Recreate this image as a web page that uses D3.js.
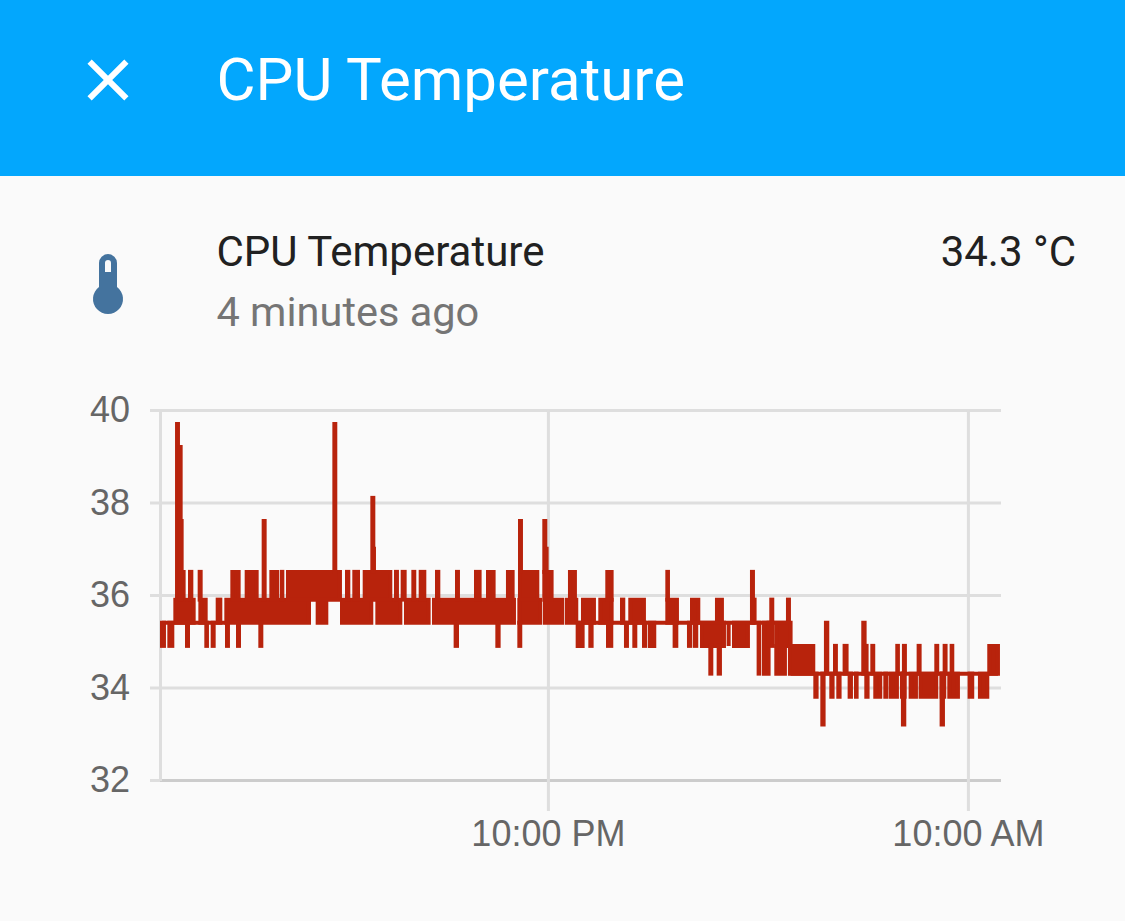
<!DOCTYPE html>
<html><head><meta charset="utf-8">
<script src="https://cdnjs.cloudflare.com/ajax/libs/d3/7.8.5/d3.min.js"></script>
<style>
html,body{margin:0;padding:0;background:#fafafa;}
svg{display:block;font-family:Roboto,sans-serif;}
.axis path{display:none;}
.axis line{stroke:#dedede;stroke-width:3;}
.axis text{fill:#666666;font-size:36px;font-family:"Liberation Sans",Arial,sans-serif;}
</style></head><body>
<svg id="c" width="1125" height="921"></svg>
<script>
// Minutes since the start of the 24 h window (10:55 AM).
const domainMinutes = [0, 1440];
const tempTicks = [32, 34, 36, 38, 40];
const timeTickMinutes = [0, 665, 1385];
const timeTickLabels = ["", "10:00 PM", "10:00 AM"];

// Each run: [startMinute, endMinute, lowTemp, highTemp]
const baseRuns = [
 [3.4,113.7,35.4,35.4],[713.6,1081,35.4,35.4],[1081,1436.5,34.3,34.3]
];
const bandRuns = [
 [26.3,57.7,35.4,35.9],[69.2,78.3,35.4,35.9],[98.9,103.4,35.4,35.9],[113.7,255.4,35.4,35.9],
 [270.3,285.1,35.4,35.9],[312,362.2,35.4,35.9],[372.6,412,35.4,35.9],[421.7,460.5,35.4,35.9],
 [469.7,606.8,35.4,35.9],[616,651.9,35.4,35.9],[660,689.6,35.4,35.9],[697.7,713.6,35.4,35.9],
 [725.1,743.9,35.4,35.9],[754.8,774.2,35.4,35.9],[792,794.2,35.4,35.9],[806.2,829.6,35.4,35.9],
 [869.7,886.2,35.4,35.9],[912,922.8,35.4,35.9],[954.8,963.3,35.4,35.9],
 [1017.6,1019.3,35.4,35.9],[1047.9,1049.6,35.4,35.9],[1076.5,1078.2,35.4,35.9]
];
const peakRuns = [
 [30.3,40.5,35.9,36.5],[51.4,53.7,35.9,36.5],[68,69.7,35.9,36.5],[124,134.8,35.9,36.5],
 [148.6,165.7,35.9,36.5],[190.9,201.1,35.9,36.5],[209.1,209.7,35.9,36.5],[219.4,308.5,35.9,36.5],
 [320.6,322.8,35.9,36.5],[333.1,339.4,35.9,36.5],[350.9,394.8,35.9,36.5],[404.6,406.2,35.9,36.5],
 [416,419.4,35.9,36.5],[434.3,435.9,35.9,36.5],[446.9,453.1,35.9,36.5],[474.9,477.1,35.9,36.5],
 [509.1,510.8,35.9,36.5],[541.7,547.9,35.9,36.5],[562.3,571.9,35.9,36.5],[596.5,604.5,35.9,36.5],
 [617.1,646.8,35.9,36.5],[658.8,671.3,35.9,36.5],[702.8,711.3,35.9,36.5],[766.8,774.2,35.9,36.5],
 [869.7,870.8,35.9,36.5],[1014.8,1016.5,35.4,36.5]
];
const spikeRuns = [
 [29.2,30.8,35.9,39.7],[33.7,35.4,35.9,39.2],[35.4,37.1,35.9,37.6],[177.7,179.4,35.9,37.6],
 [298.9,300.5,36.5,39.7],[364,365.7,36.5,38.1],[365.1,366.8,36.5,37.0],[617.1,618.8,36.5,37.6],
 [658.8,660.5,36.5,37.6],[661.1,662.8,36.5,37.0]
];
const dipRuns = [
 [3.4,6.8,34.9,35.4],[16,21.1,34.9,35.4],[46.3,48,34.9,35.4],[79.4,80.5,34.9,35.4],
 [90.3,92,34.9,35.4],[114.9,116.5,34.9,35.4],[133.7,135.4,34.9,35.4],[172,173.7,34.9,35.4],
 [506.8,509.1,34.9,35.4],[578.3,580.5,34.9,35.4],[616,617.6,34.9,35.4],[716,724.5,34.9,35.4],
 [737.7,739.9,34.9,35.4],[768,773.6,34.9,35.4],[798.8,800.5,34.9,35.4],[813.1,814.8,34.9,35.4],
 [829.7,831.9,34.9,35.4],[840,847.3,34.9,35.4],[882.2,885.1,34.9,35.4],[906.8,909.1,34.9,35.4],
 [917.1,919.3,34.9,35.4],[929.1,966.8,34.9,35.4],[974.8,974.8,34.9,35.4],[984,1007.9,34.9,35.4],
 [943.4,945.1,34.3,34.9],[957.7,959.9,34.3,34.9]
];
const lateRuns = [
 [1026.2,1027.3,34.3,35.4],[1035.4,1043.3,34.3,35.4],[1043.3,1050,34.9,35.4],[1056.5,1081,34.9,35.4],
 [1056.5,1071.3,34.3,34.9],[1079.9,1119.9,34.3,34.9],
 [1141.6,1143.9,34.3,35.4],[1157.1,1158.7,34.3,34.9],[1173.6,1177,34.3,34.9],[1205.6,1207.9,34.3,35.4],
 [1209.6,1211.3,34.3,34.9],[1221.1,1222.7,34.3,34.9],[1263.9,1265,34.3,34.9],[1275.3,1277,34.3,34.9],
 [1300.5,1302.2,34.3,34.9],[1330.8,1332.4,34.3,34.9],[1345.1,1346.7,34.3,34.9],[1357.1,1358.2,34.3,34.9],
 [1421.6,1436.5,34.3,34.9]
];
const lowRuns = [
 [1123.4,1125.6,33.8,34.3],[1135.4,1137.6,33.2,34.3],[1150.8,1153,33.8,34.3],[1162.8,1165,33.8,34.3],
 [1182.2,1184.5,33.8,34.3],[1193.1,1194.2,33.8,34.3],[1210.8,1213,33.8,34.3],[1226.2,1234.7,33.8,34.3],
 [1243.4,1245,33.8,34.3],[1252.5,1263.3,33.8,34.3],[1271.9,1276.5,33.8,34.3],[1273.6,1275.9,33.2,34.3],
 [1286.8,1295.9,33.8,34.3],[1303.9,1330.7,33.8,34.3],[1339.9,1344.4,33.8,34.3],[1339.9,1342.2,33.2,34.3],
 [1353.1,1367.9,33.8,34.3],[1387.9,1392.4,33.8,34.3],[1405.6,1418.2,33.8,34.3]
];

const svg = d3.select("#c");
svg.append("rect").attr("width",1125).attr("height",921).attr("fill","#fafafa");
svg.append("rect").attr("width",1125).attr("height",176).attr("fill","#03a7fd");
svg.append("path").attr("d","M89.6,61.6 L126.4,98.4 M126.4,61.6 L89.6,98.4").attr("stroke","#fff").attr("stroke-width",6).attr("fill","none");
svg.append("text").attr("x",216.5).attr("y",100).attr("fill","#fff").attr("font-size",60).text("CPU Temperature");

// thermometer icon
svg.append("path").attr("fill","#44739e").attr("fill-rule","evenodd")
 .attr("d","M99,263 a9,9 0 0 1 18,0 V287 a15,15 0 1 1 -18,0 Z M105,272 V263 a3,3 0 0 1 6,0 V272 Z");
svg.append("text").attr("x",216.5).attr("y",266).attr("fill","#212121").attr("font-size",42).text("CPU Temperature");
svg.append("text").attr("x",216.5).attr("y",326).attr("fill","#757575").attr("font-size",41.5).text("4 minutes ago");
svg.append("text").attr("x",1076).attr("y",266).attr("text-anchor","end").attr("fill","#212121").attr("font-size",42).text("34.3 °C");

const x = d3.scaleLinear().domain(domainMinutes).range([160,1000]);
const y = d3.scaleLinear().domain([32,40]).range([780,410]);

const gy = svg.append("g").attr("class","axis").attr("transform","translate(160,0)")
 .call(d3.axisLeft(y).tickValues(tempTicks).tickSize(10).tickPadding(20).tickFormat(d3.format("d")));
gy.selectAll("line").attr("x1",-10).attr("x2",841);
gy.selectAll("text").attr("dy","0.33em");

const gx = svg.append("g").attr("class","axis").attr("transform","translate(0,780)")
 .call(d3.axisBottom(x).tickValues(timeTickMinutes).tickSize(31).tickPadding(9)
   .tickFormat((d,i)=>timeTickLabels[i]));
gx.selectAll("line").attr("y1",-370).attr("y2",(d,i)=>timeTickLabels[i] ? 31 : 1);

// darker baseline on top of the grid
gy.selectAll("line").filter(d=>d===32).each(function(){
  d3.select(this.parentNode).append("line").attr("x1",0).attr("x2",841).style("stroke","#cccccc");
});

const allRuns = [...baseRuns,...bandRuns,...peakRuns,...spikeRuns,...dipRuns,...lateRuns,...lowRuns];
const runOutline = d3.line().curve(d3.curveLinearClosed).x(p=>x(p[0])).y(p=>y(p[1]));
svg.append("g").selectAll("path").data(allRuns).join("path")
 .attr("d",d=>runOutline([[d[0],d[3]],[d[1],d[3]],[d[1],d[2]],[d[0],d[2]]]))
 .attr("fill","#b8230c").attr("stroke","#b8230c").attr("stroke-width",4).attr("stroke-linejoin","miter");
</script></body></html>
